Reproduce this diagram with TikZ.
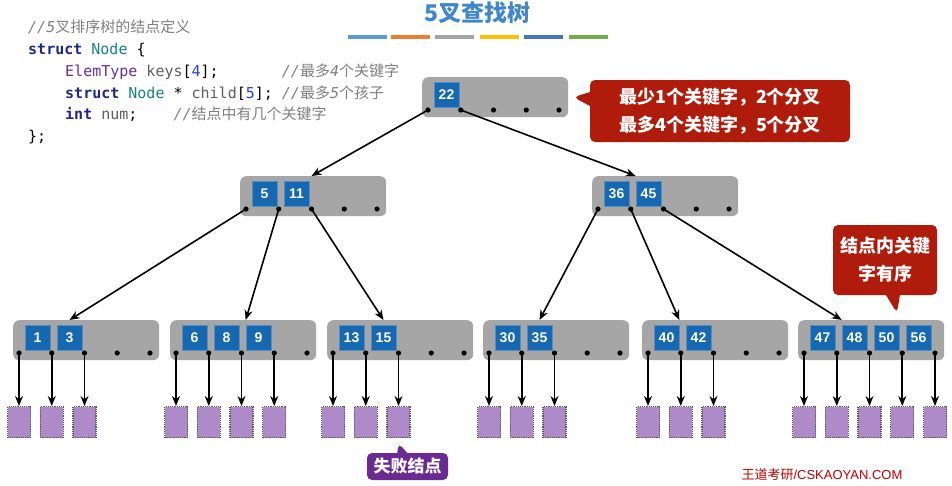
\documentclass[tikz,border=0pt]{standalone}
\usepackage{fontspec}
\setmainfont{Liberation Sans}
\setmonofont{DejaVu Sans Mono}
\newfontfamily\cjk{Noto Sans CJK SC}
\usetikzlibrary{arrows.meta,positioning,shapes.callouts}

\definecolor{keyblue}{HTML}{1668B0}
\definecolor{nodegray}{HTML}{A6A6A6}
\definecolor{failpurple}{HTML}{AE8BC8}
\definecolor{tipred}{HTML}{B01C0C}
\definecolor{tippurple}{HTML}{6A2A92}
\definecolor{titleblue}{HTML}{3F87C9}
\definecolor{cmtgray}{HTML}{808080}
\definecolor{kwblue}{HTML}{1E2A7E}
\definecolor{typeteal}{HTML}{17808A}
\definecolor{typepurple}{HTML}{6A2EA0}
\definecolor{idgray}{HTML}{5E5E5E}
\definecolor{numblue}{HTML}{2244CC}
\definecolor{bar1}{HTML}{5B9BD5}
\definecolor{bar2}{HTML}{ED7D31}
\definecolor{bar3}{HTML}{A5A5A5}
\definecolor{bar4}{HTML}{FFC000}
\definecolor{bar5}{HTML}{4472C4}
\definecolor{bar6}{HTML}{70AD47}

\newcommand{\kw}[1]{\textcolor{kwblue}{\bfseries #1}}
\newcommand{\ty}[1]{\textcolor{typeteal}{#1}}
\newcommand{\tp}[1]{\textcolor{typepurple}{#1}}
\newcommand{\id}[1]{\textcolor{idgray}{#1}}
\newcommand{\nm}[1]{\textcolor{numblue}{#1}}
\newcommand{\cm}[1]{\textcolor{cmtgray}{\itshape #1}}

% one node of the tree: name, x, y, keys
\newcommand{\treenode}[4]{%
  \begin{scope}[shift={(#2,#3)}]
    \node[gbox, anchor=north west] (#1) at (0,0) {};
    \foreach \kv [count=\i] in {#4}
      \node[key] (#1-k\i) at (32*\i-7.5,17.5) {\kv};
    \foreach \i in {1,...,5} {
      \coordinate (#1-p\i) at (32.75*\i-26.75,33);
      \fill (#1-p\i) circle[radius=2.6pt];
    }
  \end{scope}}

% failure nodes below a leaf: name, count
\newcommand{\failnodes}[2]{%
  \foreach \i in {1,...,#2} {
    \node[fail, below=53pt of #1-p\i] (#1-f\i) {};
    \draw[arr] (#1-p\i) -- (#1-f\i);
  }}

\begin{document}
\begin{tikzpicture}
  [x=1pt, y=-1pt,
   gbox/.style={fill=nodegray, rounded corners=6pt, minimum width=146pt, minimum height=40pt, inner sep=0pt},
   key/.style={fill=keyblue, draw=keyblue!75!white, line width=0.6pt, minimum size=25pt, inner sep=0pt,
     text=white, font=\fontsize{14}{14}\selectfont\bfseries},
   fail/.style={fill=failpurple, draw=black!65, densely dotted, line width=1.2pt,
     minimum width=23pt, minimum height=31pt, inner sep=0pt},
   arr/.style={-{Stealth[length=10pt,width=8pt]}, line width=1.6pt},
   code/.style={anchor=base west, inner sep=0pt, font=\ttfamily\fontsize{15}{15}\selectfont},
   tip/.style={rectangle callout, rounded corners=5pt, text=white, align=center, inner sep=0pt,
     callout pointer width=14pt, font=\cjk\bfseries\fontsize{18}{28}\selectfont}]
  \useasboundingbox[fill=white] (0,0) rectangle (952,485);

  % title
  \node[font=\cjk\bfseries\fontsize{23}{23}\selectfont, text=titleblue] (title) at (477,13) {5叉查找树};
  \foreach \xa/\c in {348/bar1,391/bar2,435/bar3,480/bar4,524/bar5,569/bar6}
    \fill[\c] (\xa,35) rectangle +(39,4);

  % node definition
  \node[code] (c1) at (28,32) {\cm{//5{\cjk 叉排序树的结点定义}}};
  \node[code] (c2) at (28,54) {\kw{struct} \ty{Node} \{};
  \node[code] (c3) at (65,76) {\tp{ElemType} \id{keys}[\nm{4}];\ \ \ \ \ \ \ \cm{//{\cjk 最多}4{\cjk 个关键字}}};
  \node[code] (c4) at (65,98) {\kw{struct} \ty{Node} * \id{child}[\nm{5}]; \cm{//{\cjk 最多}5{\cjk 个孩子}}};
  \node[code] (c5) at (65,119) {\kw{int} \id{num};\ \ \ \ \cm{//{\cjk 结点中有几个关键字}}};
  \node[code] (c6) at (28,141) {\};};

  % tree
  \treenode{root}{422}{77}{22}
  \treenode{L}{240}{176}{5,11}
  \treenode{R}{592}{176}{36,45}
  \treenode{A}{13}{320}{1,3}
  \treenode{B}{170}{320}{6,8,9}
  \treenode{C}{327}{320}{13,15}
  \treenode{D}{483}{320}{30,35}
  \treenode{E}{642}{320}{40,42}
  \treenode{F}{798}{320}{47,48,50,56}

  \draw[arr] (root-p1) -- (L-p3 |- L.north);
  \draw[arr] (root-p2) -- (R-k2.west |- R.north);
  \draw[arr] (L-p1) -- (A-k2 |- A.north);
  \draw[arr] (L-p2) -- (B-k3.west |- B.north);
  \draw[arr] (L-p3) -- (C-k2 |- C.north);
  \draw[arr] (R-p1) -- (D-k2 |- D.north);
  \draw[arr] (R-p2) -- (E-k1.east |- E.north);
  \draw[arr] (R-p3) -- (F-k2.west |- F.north);

  \failnodes{A}{3}
  \failnodes{B}{4}
  \failnodes{C}{3}
  \failnodes{D}{3}
  \failnodes{E}{3}
  \failnodes{F}{5}

  % notes
  \node[tip, fill=tipred, minimum width=260pt, minimum height=62pt,
    callout absolute pointer={([xshift=5pt]root.east)}] (rule) at (720,111)
    {最少1个关键字，2个分叉\\最多4个关键字，5个分叉};
  \node[tip, fill=tipred, minimum width=104pt, minimum height=70pt,
    callout absolute pointer={(897,313)}] (order) at (885,260) {结点内关键\\字有序};
  \node[tip, fill=tippurple, minimum width=81pt, minimum height=27pt, callout pointer width=10pt,
    font=\cjk\bfseries\fontsize{17}{17}\selectfont,
    callout absolute pointer={([yshift=-5pt]C-f3.south)}] (failtag) at (407.5,466.5) {失败结点};

  \node[anchor=west, text=red!75!black, font=\fontsize{13}{13}\selectfont] (site) at (738,475)
    {{\cjk 王道考研}/CSKAOYAN.COM};
\end{tikzpicture}
\end{document}
